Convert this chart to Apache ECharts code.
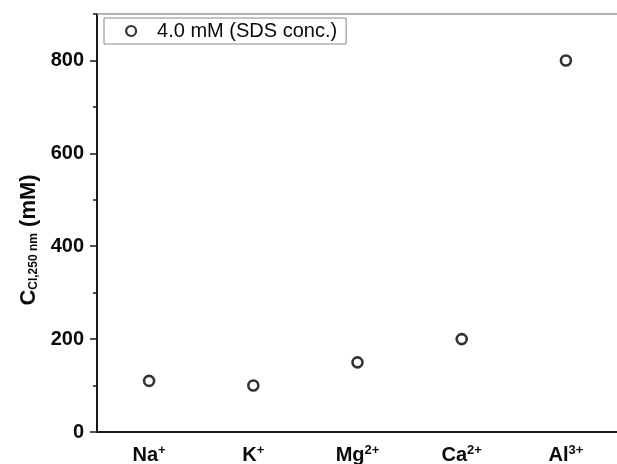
<!DOCTYPE html>
<html>
<head>
<meta charset="utf-8">
<script src="https://cdn.jsdelivr.net/npm/echarts@6/dist/echarts.min.js"></script>
<style>
  html, body { margin: 0; padding: 0; background: #fff; }
  #chart { width: 617px; height: 464px; }
</style>
</head>
<body>
<div id="chart"></div>
<script>
// Cations added to the 4.0 mM SDS solution
const ions = ['Na', 'K', 'Mg', 'Ca', 'Al'];
const charges = ['+', '+', '2+', '2+', '3+'];
// Critical concentration at 250 nm (mM) for each cation
const concValues = [110, 100, 150, 200, 800];
const seriesName = '4.0 mM (SDS conc.)';

// Value axis range and tick positions
const yMin = 0;
const yMax = 900;
const yMajorTicks = [0, 200, 400, 600, 800];
const yMinorTicks = [100, 300, 500, 700, 900];

const categories = ions.map((ion, i) => ion + charges[i]);

const FONT = "'Liberation Sans', Arial, Helvetica, sans-serif";
const INK = '#0a0a0a';
const AXIS = '#1a1a1a';

const chart = echarts.init(document.getElementById('chart'), null, { renderer: 'canvas' });

chart.setOption({
  animation: false,
  backgroundColor: '#fff',
  grid: {
    left: 97,
    right: -1,
    top: 14,
    bottom: 32,
    outerBoundsMode: 'none'
  },
  legend: {
    left: 104,
    top: 18,
    orient: 'horizontal',
    data: [seriesName],
    borderColor: '#888',
    borderWidth: 1,
    borderRadius: 0,
    padding: [3, 9, 3, 21],
    itemWidth: 10,
    itemHeight: 10,
    itemStyle: { color: '#fff', borderColor: '#000', borderWidth: 2.2 },
    textStyle: {
      fontFamily: FONT,
      fontSize: 20,
      color: INK,
      padding: [0, 0, 0, 16]
    },
    selectedMode: false
  },
  xAxis: [
    {
      // main category axis with labels and centre ticks
      type: 'category',
      data: categories,
      position: 'bottom',
      boundaryGap: true,
      axisLine: { onZero: false, lineStyle: { color: AXIS, width: 2 } },
      axisTick: { alignWithLabel: true, length: 7, lineStyle: { color: AXIS, width: 1.5 } },
      axisLabel: {
        margin: 12,
        formatter: (value, index) => '{b|' + ions[index] + '}{sup|' + charges[index] + '}',
        rich: {
          b: { fontFamily: FONT, fontSize: 20, fontWeight: 'bold', color: INK, lineHeight: 22 },
          sup: { fontFamily: FONT, fontSize: 13, fontWeight: 'bold', color: INK, verticalAlign: 'top', lineHeight: 13 }
        }
      },
      splitLine: { show: false }
    },
    {
      // short ticks on the category boundaries
      type: 'category',
      data: categories,
      position: 'bottom',
      boundaryGap: true,
      axisLine: { show: false, onZero: false },
      axisTick: { alignWithLabel: false, length: 4, lineStyle: { color: AXIS, width: 1.5 } },
      axisLabel: { show: false },
      splitLine: { show: false }
    },
    {
      // top frame line
      type: 'category',
      data: categories,
      position: 'top',
      axisLine: { onZero: false, lineStyle: { color: '#999', width: 1.5 } },
      axisTick: { show: false },
      axisLabel: { show: false },
      splitLine: { show: false }
    }
  ],
  yAxis: [
    {
      type: 'value',
      min: yMin,
      max: yMax,
      position: 'left',
      axisLine: { show: true, onZero: false, lineStyle: { color: AXIS, width: 2 } },
      axisTick: { show: true, customValues: yMajorTicks, length: 7, lineStyle: { color: AXIS, width: 1.5 } },
      axisLabel: {
        customValues: yMajorTicks,
        margin: 13,
        fontFamily: FONT,
        fontSize: 20,
        fontWeight: 'bold',
        color: INK
      },
      splitLine: { show: false },
      name: '{c|C}{s|Cl,250 nm}{c| (mM)}',
      nameLocation: 'middle',
      nameGap: 55,
      nameTextStyle: {
        padding: [0, 34, 0, 0],
        rich: {
          c: { fontFamily: FONT, fontSize: 22, fontWeight: 'bold', color: INK },
          s: { fontFamily: FONT, fontSize: 12, fontWeight: 'bold', color: INK, verticalAlign: 'bottom' }
        }
      }
    },
    {
      // minor ticks between the labelled values
      type: 'value',
      min: yMin,
      max: yMax,
      position: 'left',
      axisLine: { show: false, onZero: false },
      axisTick: { show: true, customValues: yMinorTicks, length: 4, lineStyle: { color: AXIS, width: 1.5 } },
      axisLabel: { show: false },
      splitLine: { show: false }
    }
  ],
  series: [
    {
      name: seriesName,
      type: 'scatter',
      xAxisIndex: 0,
      yAxisIndex: 0,
      data: concValues,
      symbol: 'circle',
      symbolSize: 10,
      itemStyle: { color: '#fff', borderColor: '#000', borderWidth: 2.6 }
    }
  ]
});
</script>
</body>
</html>
